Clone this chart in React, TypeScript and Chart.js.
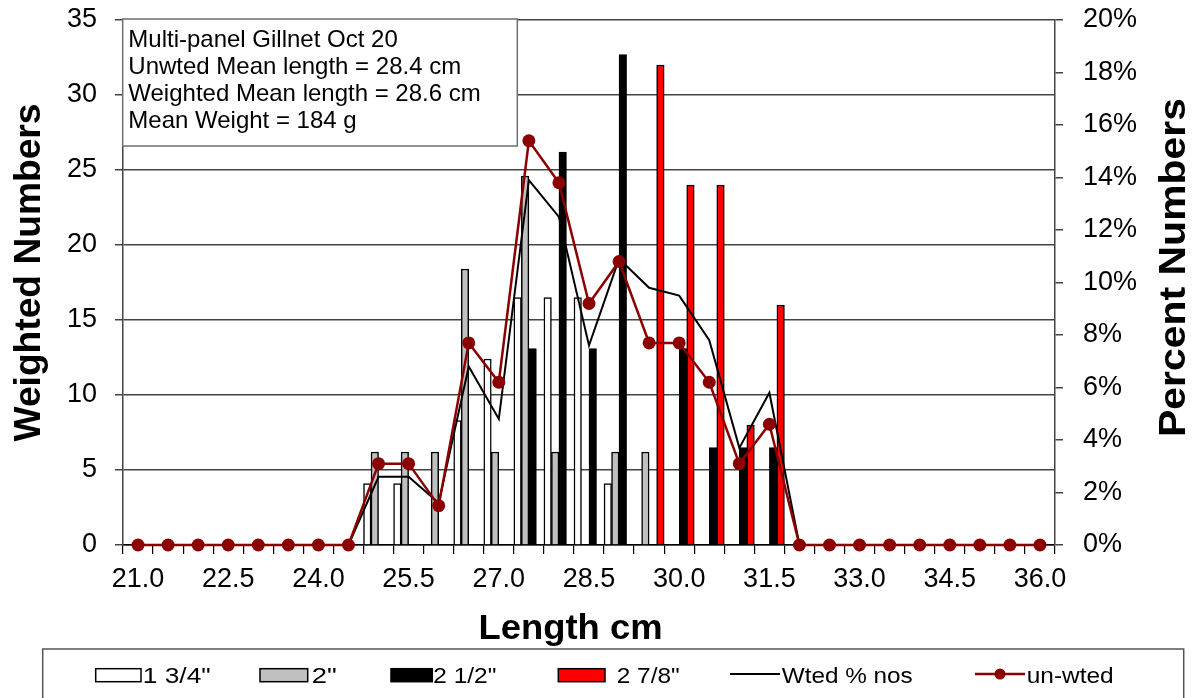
import React, { useEffect, useRef } from "react";
import { Chart, registerables } from "chart.js";

Chart.register(...registerables);

const N = null;

// Length classes (cm)
const lengthCategories = [
  "21.0", "21.5", "22.0", "22.5", "23.0", "23.5", "24.0", "24.5", "25.0", "25.5",
  "26.0", "26.5", "27.0", "27.5", "28.0", "28.5", "29.0", "29.5", "30.0", "30.5",
  "31.0", "31.5", "32.0", "32.5", "33.0", "33.5", "34.0", "34.5", "35.0", "35.5", "36.0",
];
const tickLabels = ["21.0", "22.5", "24.0", "25.5", "27.0", "28.5", "30.0", "31.5", "33.0", "34.5", "36.0"];

// Weighted numbers per mesh
const mesh134 = [N, N, N, N, N, N, N, N, 4.1, 4.1, N, 8.3, 12.4, 16.5, 16.5, 16.5, 4.1, N, N, N, N, N, N, N, N, N, N, N, N, N, N];
const mesh2 = [N, N, N, N, N, N, N, N, 6.2, 6.2, 6.2, 18.4, 6.2, 24.6, 6.2, N, 6.2, 6.2, N, N, N, N, N, N, N, N, N, N, N, N, N];
const mesh212 = [N, N, N, N, N, N, N, N, N, N, N, N, N, 13.1, 26.2, 13.1, 32.7, N, 13.1, 6.5, 6.5, 6.5, N, N, N, N, N, N, N, N, N];
const mesh278 = [N, N, N, N, N, N, N, N, N, N, N, N, N, N, N, N, N, 32, 24, 24, 8, 16, N, N, N, N, N, N, N, N, N];

// Percent numbers
const wtdPct = [0, 0, 0, 0, 0, 0, 0, 0, 2.6, 2.6, 1.6, 6.8, 4.8, 13.9, 12.5, 7.6, 10.9, 9.8, 9.5, 7.8, 3.7, 5.8, 0, 0, 0, 0, 0, 0, 0, 0, 0];
const unwtdPct = [0, 0, 0, 0, 0, 0, 0, 0, 3.1, 3.1, 1.5, 7.7, 6.2, 15.4, 13.8, 9.2, 10.8, 7.7, 7.7, 6.2, 3.1, 4.6, 0, 0, 0, 0, 0, 0, 0, 0, 0];

const infoLines = [
  "Multi-panel Gillnet Oct 20",
  "Unwted Mean length = 28.4 cm",
  "Weighted Mean length = 28.6 cm",
  "Mean Weight = 184 g",
];

const seriesNames = ['1 3/4"', '2"', '2 1/2"', '2 7/8"', "Wted % nos", "un-wted"];

const FONT = "'Liberation Sans', Arial, Helvetica, sans-serif";
const DARK_RED = "#8B0000";

function drawText(
  ctx: CanvasRenderingContext2D,
  s: string,
  x: number,
  y: number,
  font: string,
  align: CanvasTextAlign,
  width?: number,
  rot?: number
) {
  ctx.save();
  ctx.font = font;
  ctx.translate(x, y);
  if (rot) ctx.rotate(rot);
  if (width) {
    const w = ctx.measureText(s).width;
    if (w > 0) ctx.scale(width / w, 1);
  }
  ctx.textAlign = align;
  ctx.textBaseline = "alphabetic";
  ctx.fillStyle = "#000";
  ctx.fillText(s, 0, 0);
  ctx.restore();
}

const overlayPlugin = {
  id: "overlay",
  afterDraw(chart: any) {
    const ctx: CanvasRenderingContext2D = chart.ctx;
    ctx.save();

    // Axis titles
    drawText(ctx, "Weighted Numbers", 40, 272.5, `bold 37px ${FONT}`, "center", 338, -Math.PI / 2);
    drawText(ctx, "Percent Numbers", 1185, 267.5, `bold 37px ${FONT}`, "center", 339, -Math.PI / 2);
    drawText(ctx, "Length cm", 570.5, 639, `bold 35px ${FONT}`, "center", 184);

    // Info box
    ctx.fillStyle = "#fff";
    ctx.strokeStyle = "#6e6e6e";
    ctx.lineWidth = 1.5;
    ctx.fillRect(122.7, 19, 394.6, 127);
    ctx.strokeRect(122.7, 19, 394.6, 127);
    const baselines = [46.5, 73.8, 101, 128.3];
    infoLines.forEach((l, i) => drawText(ctx, l, 128.3, baselines[i], `24px ${FONT}`, "left"));

    // Legend box
    ctx.strokeStyle = "#555";
    ctx.lineWidth = 1.5;
    ctx.fillStyle = "#fff";
    ctx.fillRect(42.7, 649, 1141, 60);
    ctx.strokeRect(42.7, 649, 1141, 60);

    const lf = `22px ${FONT}`;
    const base = 683.3;
    const boxes = [
      { x0: 95.7, x1: 141, fill: "#ffffff", tx: 142.7, tw: 68 },
      { x0: 260, x1: 307.7, fill: "#c0c0c0", tx: 311.7, tw: 25 },
      { x0: 391, x1: 432.3, fill: "#000000", tx: 433.3, tw: 63 },
      { x0: 558.3, x1: 605, fill: "#ff0000", tx: 616.7, tw: 63 },
    ];
    boxes.forEach((b, i) => {
      ctx.fillStyle = b.fill;
      ctx.fillRect(b.x0, 668.7, b.x1 - b.x0, 13);
      ctx.strokeStyle = "#000";
      ctx.lineWidth = 1.5;
      ctx.strokeRect(b.x0, 668.7, b.x1 - b.x0, 13);
      drawText(ctx, seriesNames[i], b.tx, base, lf, "left", b.tw);
    });
    // Wted line
    ctx.strokeStyle = "#000";
    ctx.lineWidth = 2;
    ctx.beginPath();
    ctx.moveTo(730, 674);
    ctx.lineTo(780, 674);
    ctx.stroke();
    drawText(ctx, seriesNames[4], 781.7, base, lf, "left", 131);
    // un-wted line
    ctx.strokeStyle = DARK_RED;
    ctx.lineWidth = 2.5;
    ctx.beginPath();
    ctx.moveTo(975, 674);
    ctx.lineTo(1025, 674);
    ctx.stroke();
    ctx.fillStyle = DARK_RED;
    ctx.beginPath();
    ctx.arc(1000, 674, 5.5, 0, Math.PI * 2);
    ctx.fill();
    drawText(ctx, seriesNames[5], 1026.7, base, lf, "left", 87);

    ctx.restore();
  },
};

export default function App() {
  const ref = useRef<HTMLCanvasElement | null>(null);

  useEffect(() => {
    if (!ref.current) return;
    const barCommon = {
      type: "bar" as const,
      yAxisID: "y",
      borderColor: "#000",
      borderWidth: 1.5,
      categoryPercentage: 1.0,
      barPercentage: 1.0,
      order: 2,
    };
    const chart = new Chart(ref.current, {
      type: "bar",
      data: {
        labels: lengthCategories,
        datasets: [
          { ...barCommon, label: seriesNames[0], data: mesh134, backgroundColor: "#ffffff" },
          { ...barCommon, label: seriesNames[1], data: mesh2, backgroundColor: "#c0c0c0" },
          { ...barCommon, label: seriesNames[2], data: mesh212, backgroundColor: "#000000" },
          { ...barCommon, label: seriesNames[3], data: mesh278, backgroundColor: "#ff0000" },
          {
            type: "line",
            label: seriesNames[4],
            data: wtdPct,
            yAxisID: "y1",
            borderColor: "#000",
            borderWidth: 2,
            pointRadius: 0,
            tension: 0,
            order: 1,
            clip: false,
          } as any,
          {
            type: "line",
            label: seriesNames[5],
            data: unwtdPct,
            yAxisID: "y1",
            borderColor: DARK_RED,
            backgroundColor: DARK_RED,
            borderWidth: 2.5,
            pointRadius: 6.5,
            pointBorderWidth: 0,
            pointBackgroundColor: DARK_RED,
            tension: 0,
            order: 0,
            clip: false,
          } as any,
        ],
      },
      options: {
        responsive: false,
        animation: false,
        devicePixelRatio: 1,
        layout: { padding: { top: 20, left: 0, right: 0, bottom: 0 } },
        plugins: {
          legend: { display: false },
          tooltip: { enabled: false },
          title: { display: false },
        },
        scales: {
          x: {
            type: "category",
            offset: true,
            grid: {
              display: true,
              drawOnChartArea: false,
              drawTicks: true,
              tickLength: 9,
              offset: true,
              color: "#000",
              lineWidth: 1.2,
            },
            border: { display: true, color: "#000", width: 1.5 },
            ticks: {
              autoSkip: false,
              maxRotation: 0,
              minRotation: 0,
              padding: 9,
              color: "#000",
              font: { family: FONT, size: 27 },
              callback: (_v: any, i: number) =>
                tickLabels.includes(lengthCategories[i]) ? lengthCategories[i] : "",
            },
            afterFit: (s: any) => {
              s.height = 153;
              s.paddingLeft = 0;
              s.paddingRight = 0;
            },
          },
          y: {
            position: "left",
            min: 0,
            max: 35,
            ticks: {
              stepSize: 5,
              padding: 18,
              color: "#000",
              font: { family: FONT, size: 27 },
            },
            grid: { color: "#444", lineWidth: 1.5, tickLength: 8, drawTicks: true },
            border: { display: true, color: "#444", width: 1.5 },
            afterFit: (s: any) => {
              s.width = 123;
              s.paddingTop = 0;
              s.paddingBottom = 0;
            },
          },
          y1: {
            position: "right",
            min: 0,
            max: 20,
            ticks: {
              stepSize: 2,
              padding: 20,
              color: "#000",
              font: { family: FONT, size: 27 },
              callback: (v: any) => `${v}%`,
            },
            grid: { drawOnChartArea: false, tickLength: 8, color: "#444", lineWidth: 1.5 },
            border: { display: true, color: "#444", width: 1.5 },
            afterFit: (s: any) => {
              s.width = 139;
              s.paddingTop = 0;
              s.paddingBottom = 0;
            },
          },
        },
      } as any,
      plugins: [overlayPlugin],
    });
    return () => chart.destroy();
  }, []);

  return (
    <div style={{ position: "fixed", left: 0, top: 0, width: 1194, height: 698, background: "#fff" }}>
      <canvas ref={ref} width={1194} height={698} style={{ display: "block", width: 1194, height: 698 }} />
    </div>
  );
}
